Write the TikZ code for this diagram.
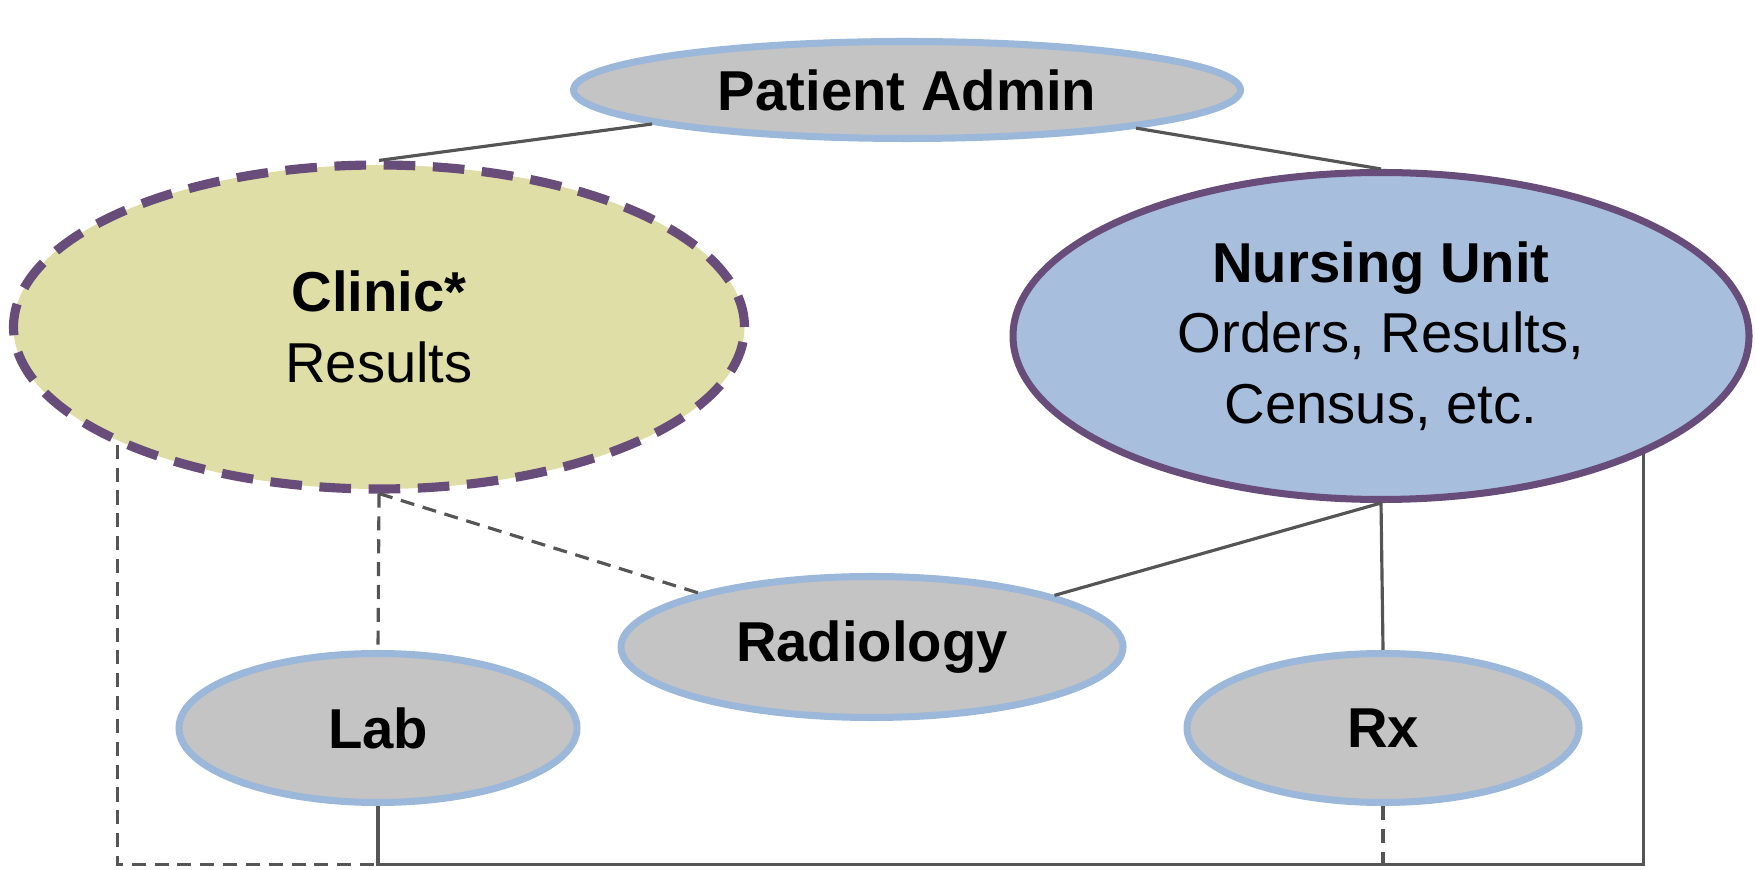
\documentclass[tikz,border=0pt]{standalone}
\usepackage{fontspec}
\setmainfont{Liberation Sans}
\usepackage{xcolor}
\usepackage{tikz}
\usetikzlibrary{shapes.geometric}
\definecolor{cellgray}{HTML}{C4C4C4}
\definecolor{edgeblue}{HTML}{9BB7D9}
\definecolor{clinicfill}{HTML}{DEDEA6}
\definecolor{nursefill}{HTML}{A7BEDD}
\definecolor{rimpurple}{HTML}{684C7A}
\definecolor{linegray}{HTML}{555555}

\begin{document}
\begin{tikzpicture}[
  unit/.style={ellipse, draw=edgeblue, line width=2pt, fill=cellgray, inner sep=0pt, align=center, font=\fontsize{16}{20}\selectfont},
  link/.style={draw=linegray, line width=0.9pt},
  dashlink/.style={link, dash pattern=on 4pt off 2.5pt}
]
\useasboundingbox (0,0) rectangle (17.56,8.69);

\node[unit, minimum width=6.67cm, minimum height=0.97cm] (admin) at (9.07,7.79) {\textbf{Patient Admin}};
\node[unit, fill=clinicfill, draw=rimpurple, line width=2.6pt, dash pattern=on 9pt off 5pt, minimum width=7.31cm, minimum height=3.24cm] (clinic) at (3.79,5.42) {\textbf{Clinic*}\\Results};
\node[unit, fill=nursefill, draw=rimpurple, minimum width=7.36cm, minimum height=3.27cm] (nursing) at (13.81,5.33) {\textbf{Nursing Unit}\\Orders, Results,\\Census, etc.};
\node[unit, minimum width=5.02cm, minimum height=1.41cm] (radio) at (8.72,2.22) {\textbf{Radiology}};
\node[unit, minimum width=3.98cm, minimum height=1.49cm] (lab) at (3.78,1.41) {\textbf{Lab}};
\node[unit, minimum width=3.92cm, minimum height=1.49cm] (rx) at (13.83,1.41) {\textbf{Rx}};

\coordinate (base) at (0,0.045);

\draw[link] (admin) -- (clinic.north);
\draw[link] (admin) -- (nursing.north);
\draw[dashlink] (clinic.south) -- (lab.north);
\draw[dashlink] (clinic.south) -- (radio);
\draw[link] (nursing.south) -- (radio);
\draw[link] (nursing.south) -- (rx.north);

\draw[dashlink] (clinic.south west) |- (lab.south |- base);
\draw[link] (lab.south) -- (lab.south |- base) -| (nursing.south east);
\draw[dashlink] (rx.south) -- (rx.south |- base);
\end{tikzpicture}
\end{document}
